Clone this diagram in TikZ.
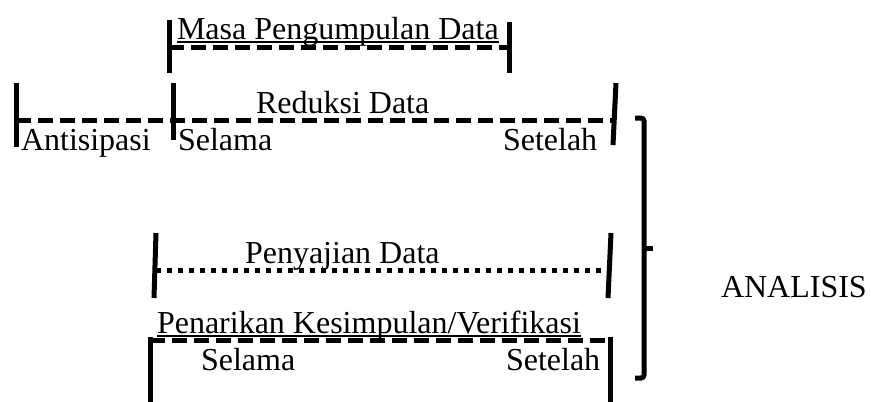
\documentclass[tikz,border=0pt]{standalone}
\usepackage{fontspec}
\setmainfont{Liberation Serif}
\begin{document}
\begin{tikzpicture}[x=1pt,y=-1pt,
  lbl/.style={anchor=base west,inner sep=0pt,outer sep=0pt,font=\fontsize{32}{38}\selectfont},
  barline/.style={line width=5pt},
  dashline/.style={line width=5pt,dash pattern=on 15pt off 7pt},
  dotline/.style={line width=5pt,dash pattern=on 5pt off 6pt},
  uline/.style={line width=1.3pt},
  brace/.style={line width=5pt,rounded corners=3pt}]
\useasboundingbox (0,0) rectangle (871,402);

% --- Masa Pengumpulan Data
\coordinate (m1t) at (169,20); \coordinate (m1b) at (169,73);
\coordinate (m2t) at (509,22); \coordinate (m2b) at (509,73);
\coordinate (mdl) at (169,47); \coordinate (mdr) at (509,47);
\draw[barline] (m1t) -- (m1b);
\draw[barline] (m2t) -- (m2b);
\draw[dashline] (mdl) -- (mdr);
\node[lbl] (masa) at (177,39) {Masa Pengumpulan Data};
\draw[uline] ([yshift=-3pt]masa.base west) -- ([yshift=-3pt]masa.base east);

% --- Reduksi Data
\coordinate (r1t) at (16,83);  \coordinate (r1b) at (16,147);
\coordinate (r2t) at (173,83); \coordinate (r2b) at (173,140);
\coordinate (r3t) at (616,83); \coordinate (r3b) at (613,145);
\coordinate (rdl) at (16,120); \coordinate (rdr) at (614,120);
\draw[barline] (r1t) -- (r1b);
\draw[barline] (r2t) -- (r2b);
\draw[barline] (r3t) -- (r3b);
\draw[dashline] (rdl) -- (rdr);
\node[lbl] (reduksi) at (256,113) {Reduksi Data};
\node[lbl] (antisipasi) at (21,150) {Antisipasi};
\node[lbl] (selama1) at (178,150) {Selama};
\node[lbl] (setelah1) at (503,150) {Setelah};

% --- Penyajian Data
\coordinate (p1t) at (156,233); \coordinate (p1b) at (154,298);
\coordinate (p2t) at (611,233); \coordinate (p2b) at (608,298);
\coordinate (pdl) at (156,270); \coordinate (pdr) at (607,270);
\draw[barline] (p1t) -- (p1b);
\draw[barline] (p2t) -- (p2b);
\draw[dotline] (pdl) -- (pdr);
\node[lbl] (penyajian) at (245,263) {Penyajian Data};

% --- Penarikan Kesimpulan/Verifikasi
\coordinate (k1t) at (150,337); \coordinate (k1b) at (150,402);
\coordinate (k2t) at (610,337); \coordinate (k2b) at (610,402);
\coordinate (kdl) at (150,340); \coordinate (kdr) at (608,340);
\draw[barline] (k1t) -- (k1b);
\draw[barline] (k2t) -- (k2b);
\draw[dashline] (kdl) -- (kdr);
\node[lbl] (penarikan) at (157,333) {Penarikan Kesimpulan/Verifikasi};
\draw[uline] ([yshift=-3pt]penarikan.base west) -- ([yshift=-3pt]penarikan.base east);
\node[lbl] (selama2) at (201,370) {Selama};
\node[lbl] (setelah2) at (506,370) {Setelah};

% --- Bracket and ANALISIS
\coordinate (bt) at (635,118); \coordinate (bb) at (635,378);
\coordinate (bm) at (644,248); \coordinate (bmt) at (653,248);
\draw[brace] (bt) -- (644,118) -- (644,378) -- (bb);
\draw[barline] (bm) -- (bmt);
\node[lbl] (analisis) at (721,297) {ANALISIS};
\end{tikzpicture}
\end{document}
